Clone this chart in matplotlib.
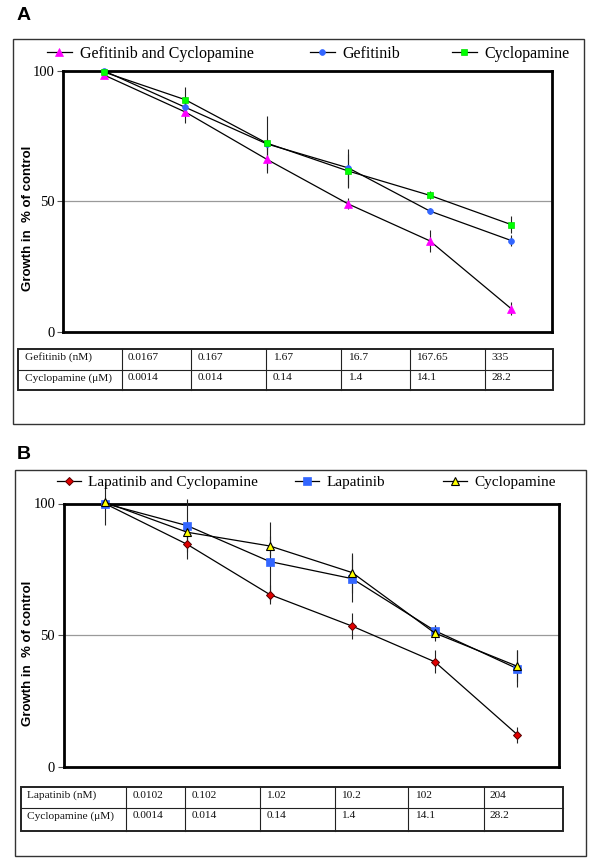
import numpy as np
import matplotlib
matplotlib.use("Agg")
from matplotlib import pyplot as plt
from matplotlib.lines import Line2D
from matplotlib.patches import Rectangle

W, H = 600, 865
SERIF = 'Liberation Serif'
SANS = 'Liberation Sans'
plt.rcParams['font.family'] = [SERIF, 'DejaVu Sans']

# ---- data ----
doses = np.arange(6)

gefitinib_nm = ["0.0167", "0.167", "1.67", "16.7", "167.65", "335"]
lapatinib_nm = ["0.0102", "0.102", "1.02", "10.2", "102", "204"]
cyclopamine_um = ["0.0014", "0.014", "0.14", "1.4", "14.1", "28.2"]

# panel A
gef_cyc = [98.4, 84.2, 66.1, 49.0, 34.9, 8.9]
gef_cyc_err = [1.2, 4.1, 5.4, 2.1, 4.1, 2.5]
gef = [100.0, 86.0, 72.0, 62.8, 46.3, 35.0]
gef_err = [0.5, 2.0, 2.0, 7.3, 1.0, 2.0]
cyc_a = [99.5, 88.9, 72.3, 61.6, 52.3, 41.1]
cyc_a_err = [1.0, 4.7, 10.4, 6.5, 1.5, 3.3]

# panel B
lap_cyc = [100.0, 84.5, 65.5, 53.5, 40.0, 12.4]
lap_cyc_err = [1.0, 5.5, 3.5, 5.0, 4.4, 3.0]
lap = [100.0, 91.6, 78.0, 71.5, 51.8, 37.4]
lap_err = [8.0, 10.0, 15.0, 9.0, 2.0, 7.0]
cyc_b = [100.5, 89.1, 83.9, 73.8, 50.9, 38.3]
cyc_b_err = [1.0, 2.0, 3.7, 7.6, 3.0, 6.0]

# marker styles
STY_MAG = dict(marker='^', ms=6, mfc='#ff00ff', mec='#ff00ff', mew=0.5)
STY_BLUE_DOT = dict(marker='o', ms=4.2, mfc='#3366ff', mec='#3366ff', mew=0.5)
STY_GREEN = dict(marker='s', ms=5, mfc='#00ff00', mec='#00dd00', mew=0.5)
STY_RED = dict(marker='D', ms=4.5, mfc='#e00000', mec='#550000', mew=0.7)
STY_BLUE_SQ = dict(marker='s', ms=5.8, mfc='#3366ff', mec='#3366ff', mew=0.5)
STY_YELLOW = dict(marker='^', ms=6, mfc='#ffff00', mec='#000000', mew=0.8)


def fx(x):
    return x / W


def fy(y):
    return 1 - y / H


def add_box(fig, x0, y0, x1, y1, lw=1.0, color='#333333'):
    fig.add_artist(Rectangle((fx(x0), fy(y1)), fx(x1) - fx(x0), fy(y0) - fy(y1),
                             transform=fig.transFigure, fill=False, lw=lw, ec=color))


def add_line(fig, xs, ys, lw=0.8, color='#222222'):
    fig.add_artist(Line2D([fx(v) for v in xs], [fy(v) for v in ys],
                          transform=fig.transFigure, lw=lw, color=color))


def draw_table(fig, cols, rows, cells):
    add_box(fig, cols[0], rows[0], cols[-1], rows[-1], lw=1.4, color='#222222')
    for c in cols[1:-1]:
        add_line(fig, [c, c], [rows[0], rows[-1]])
    for r in rows[1:-1]:
        add_line(fig, [cols[0], cols[-1]], [r, r])
    for i, row in enumerate(cells):
        for j, txt in enumerate(row):
            fig.text(fx(cols[j] + 6.5), fy(rows[i] + 8), txt, ha='left', va='center',
                     fontsize=8.2, family=SERIF, color='#111111')


def make_panel(fig, rect_px, series, ylab_y):
    x0, y0, x1, y1 = rect_px
    ax = fig.add_axes([fx(x0), fy(y1), fx(x1) - fx(x0), fy(y0) - fy(y1)])
    for vals, errs, sty in series:
        ax.errorbar(doses, vals, yerr=errs, color='black', lw=0.9, ecolor='#222222',
                    elinewidth=0.8, capsize=0, clip_on=False, zorder=3, **sty)
    ax.set_xlim(-0.5, 5.5)
    ax.set_ylim(0, 100)
    ax.set_xticks([])
    ax.set_yticks([0, 50, 100])
    ax.tick_params(axis='y', length=4, width=0.8, pad=2, labelsize=10.5, color='#555555')
    ax.grid(axis='y', color='#9a9a9a', lw=0.9)
    ax.set_axisbelow(True)
    for s in ax.spines.values():
        s.set_linewidth(2.0)
        s.set_color('black')
    ax.set_ylabel("Growth in  % of control", fontsize=9.5, fontweight='bold', family=SANS)
    ax.yaxis.set_label_coords((34 - x0) / (x1 - x0), ylab_y)
    return ax


def add_legend(fig, entries, y, fontsize):
    for label, sty, x in entries:
        h = Line2D([], [], color='black', lw=0.9, **sty)
        fig.legend(handles=[h], labels=[label], loc='center left',
                   bbox_to_anchor=(fx(x), fy(y)), frameon=False, borderpad=0,
                   borderaxespad=0, handlelength=1.55, handletextpad=0.5,
                   prop={'family': SERIF, 'size': fontsize})


fig = plt.figure(figsize=(W / 100, H / 100), dpi=100)

# ---- panel A ----
fig.text(fx(17), fy(15), "A", fontsize=14, fontweight='bold', family=SANS, va='center')
add_box(fig, 13.3, 39, 584, 424)
make_panel(fig, (63, 70.7, 552, 332),
           [(gef_cyc, gef_cyc_err, STY_MAG),
            (gef, gef_err, STY_BLUE_DOT),
            (cyc_a, cyc_a_err, STY_GREEN)], 0.436)
add_legend(fig, [("Gefitinib and Cyclopamine", STY_MAG, 47),
                 ("Gefitinib", STY_BLUE_DOT, 310),
                 ("Cyclopamine", STY_GREEN, 452)], 54, 11.5)
draw_table(fig, [18.4, 121.5, 190.8, 266.3, 341.4, 409.6, 485, 553], [349.3, 370, 390],
           [["Gefitinib (nM)"] + gefitinib_nm, ["Cyclopamine (μM)"] + cyclopamine_um])

# ---- panel B ----
fig.text(fx(17), fy(454.5), "B", fontsize=14, fontweight='bold', family=SANS, va='center')
add_box(fig, 14.5, 470, 586, 855.5)
make_panel(fig, (63.5, 503.5, 558.5, 767.3),
           [(lap_cyc, lap_cyc_err, STY_RED),
            (lap, lap_err, STY_BLUE_SQ),
            (cyc_b, cyc_b_err, STY_YELLOW)], 0.433)
add_legend(fig, [("Lapatinib and Cyclopamine", STY_RED, 57),
                 ("Lapatinib", STY_BLUE_SQ, 295),
                 ("Cyclopamine", STY_YELLOW, 443)], 482.5, 11)
draw_table(fig, [21, 126.4, 185, 259.8, 334.5, 408.4, 483.5, 563], [787.3, 808, 831],
           [["Lapatinib (nM)"] + lapatinib_nm, ["Cyclopamine (μM)"] + cyclopamine_um])

fig.savefig("out.png", dpi=100)
